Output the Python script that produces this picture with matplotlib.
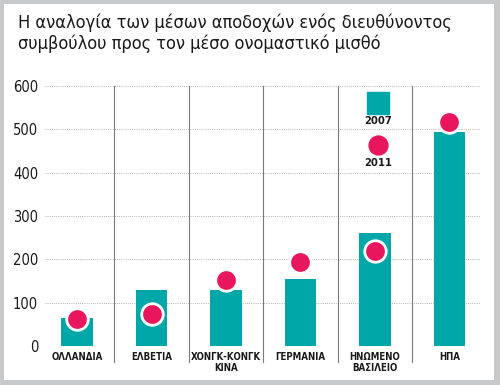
import matplotlib
matplotlib.use("Agg")
import matplotlib.pyplot as plt
from matplotlib.patches import Rectangle
from matplotlib import font_manager as fm

categories = ["ΟΛΛΑΝΔΙΑ", "ΕΛΒΕΤΙΑ", "ΧΟΝΓΚ-ΚΟΝΓΚ\nΚΙΝΑ", "ΓΕΡΜΑΝΙΑ", "ΗΝΩΜΕΝΟ\nΒΑΣΙΛΕΙΟ", "ΗΠΑ"]
values_2007 = [65, 130, 130, 155, 260, 495]
values_2011 = [62, 74, 152, 194, 220, 518]
yticks = [0, 100, 200, 300, 400, 500, 600]
title = "Η αναλογία των μέσων αποδοχών ενός διευθύνοντος\nσυμβούλου προς τον μέσο ονομαστικό μισθό"

TEAL = "#00a7a9"
PINK = "#e8175d"
BORDER = "#c8c9cb"

names = {f.name for f in fm.fontManager.ttflist}
cond_dejavu = any(f.name == "DejaVu Sans" and f.stretch in ("condensed", 300, "semi-condensed")
                  for f in fm.fontManager.ttflist)
if "Liberation Sans Narrow" in names:
    FONT = dict(family=["Liberation Sans Narrow", "DejaVu Sans"])
elif cond_dejavu:
    FONT = dict(family=["DejaVu Sans"], fontstretch="condensed")
else:
    FONT = dict(family=["Roboto", "DejaVu Sans"])

fig = plt.figure(figsize=(5, 3.85), dpi=100)
fig.patch.set_facecolor(BORDER)
fig.patches.append(Rectangle((4/500, 1-380/385), 490/500, 376/385, transform=fig.transFigure,
                             facecolor="white", edgecolor="none", zorder=-5))

fig.text(18/500, 1-14/385, title, fontsize=13.1, va="top", ha="left",
         color="#1a1a1a", linespacing=1.15, **FONT)

ax = fig.add_axes([45/500, 1-346/385, 435/500, 260/385])
ax.set_facecolor("none")
ax.set_xlim(-0.43, 5.41)
ax.set_ylim(0, 600)
for s in ax.spines.values():
    s.set_visible(False)

x = list(range(len(categories)))
for yv in yticks:
    ax.axhline(yv, color="#9a9a9a", lw=0.6, ls=(0, (1.0, 1.6)), zorder=1)

ax.bar(x, values_2007, width=0.42, color=TEAL, zorder=2)
ax.scatter(x, values_2011, s=240, color=PINK, edgecolor="white", linewidth=2.0, zorder=3)

for i in range(len(categories) - 1):
    ax.plot([i + 0.5, i + 0.5], [-37, 600], color="#7a7a7a", lw=0.8, clip_on=False, zorder=1)

ax.set_yticks(yticks)
ax.set_yticklabels([str(v) for v in yticks], fontsize=10.5, color="#1a1a1a", **FONT)
ax.tick_params(axis="y", length=0, pad=5)
ax.set_xticks(x)
ax.set_xticklabels(categories, fontsize=6.9, fontweight="bold",
                   color="#1a1a1a", linespacing=1.05, **FONT)
ax.tick_params(axis="x", length=0, pad=4.5)

# legend
lx = 4.04
ax.scatter([lx], [561], marker="s", s=250, color=TEAL, zorder=3, clip_on=False)
ax.text(lx, 519, "2007", ha="center", va="center", fontsize=8, fontweight="bold", color="#1a1a1a", **FONT)
ax.scatter([lx], [464], s=185, color=PINK, zorder=3, clip_on=False)
ax.text(lx, 423, "2011", ha="center", va="center", fontsize=8, fontweight="bold", color="#1a1a1a", **FONT)

fig.savefig("out.png", dpi=100, facecolor=fig.get_facecolor())
